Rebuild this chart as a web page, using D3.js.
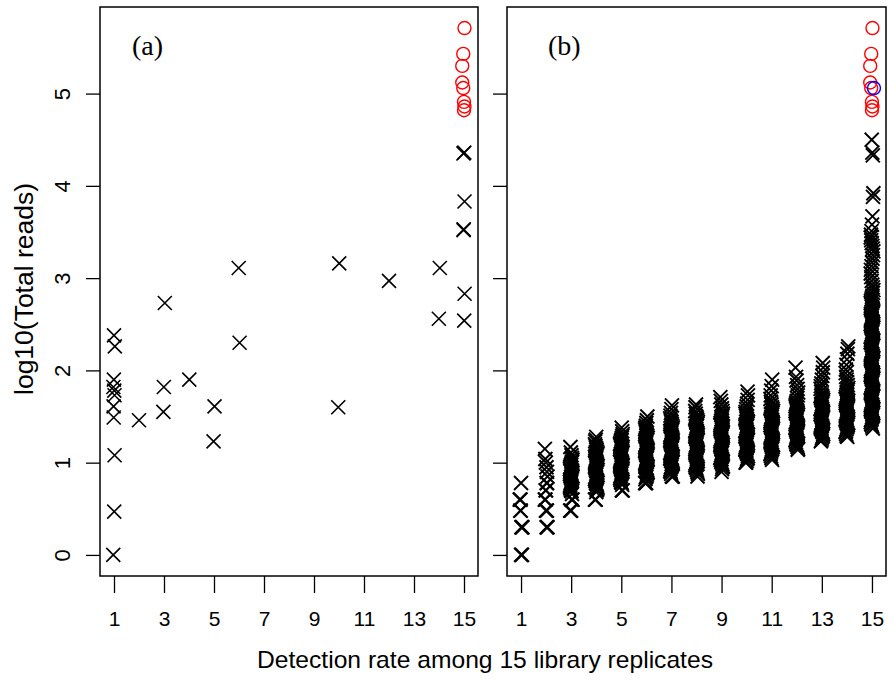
<!DOCTYPE html>
<html>
<head>
<meta charset="utf-8">
<script src="https://cdn.jsdelivr.net/npm/d3@7"></script>
<style>
  body { margin: 0; background: #fff; }
  svg { font-family: "Liberation Sans", Arial, sans-serif; }
</style>
</head>
<body>
<svg id="chart" width="894" height="680"></svg>
<script>
// Panel (a): detection rate and log10(total reads) of each cross
const aRate  = [1, 1, 1, 1, 1, 1, 1, 1, 1, 1, 1, 2, 3, 3, 3, 4, 5, 5, 6, 6, 10, 10, 12, 14, 14, 15, 15, 15, 15, 15, 15, 15];
const aReads = [2.38, 2.26, 1.90, 1.82, 1.78, 1.73, 1.61, 1.49, 1.08, 0.47, 0.00, 1.46, 2.73, 1.82, 1.55, 1.90, 1.61, 1.23, 3.11, 2.30, 3.16, 1.60, 2.97, 3.11, 2.56, 4.35, 4.36, 3.83, 3.52, 3.53, 2.83, 2.54];

// Circled points (rate 15) shown in both panels, one of them blue in (b)
const circleReads = [5.71, 5.43, 5.30, 5.12, 5.06, 4.91, 4.86, 4.82];
const blueReads = [5.06];

// Panel (b): log10(total reads) per detection rate 1..15
const b1  = [0, 0, 0, 0.30, 0.30, 0.30, 0.48, 0.48, 0.60, 0.60, 0.60, 0.78];
const b2  = [0.30, 0.30, 0.30, 0.48, 0.48, 0.48, 0.60, 0.60, 0.60, 0.70, 0.70, 0.78, 0.78, 0.85, 0.90, 0.95, 1.00, 1.04, 1.15];
const b3  = [0.48, 0.48, 0.48, 0.60, 0.60, 0.60, 0.66, 0.69, 0.70, 0.72, 0.74, 0.76, 0.78, 0.79, 0.81, 0.83, 0.85, 0.86, 0.88, 0.90, 0.91, 0.93, 0.95, 0.96, 0.98, 1.00, 1.01, 1.03, 1.05, 1.08, 1.11, 1.17];
const b4  = [0.60, 0.60, 0.60, 0.68, 0.70, 0.71, 0.73, 0.75, 0.77, 0.78, 0.80, 0.82, 0.84, 0.85, 0.87, 0.89, 0.90, 0.92, 0.94, 0.95, 0.97, 0.99, 1.00, 1.02, 1.04, 1.05, 1.07, 1.09, 1.10, 1.12, 1.14, 1.16, 1.18, 1.20, 1.23, 1.25, 1.28];
const b5  = [0.70, 0.70, 0.70, 0.76, 0.78, 0.79, 0.81, 0.83, 0.85, 0.86, 0.88, 0.90, 0.91, 0.93, 0.95, 0.96, 0.98, 1.00, 1.01, 1.03, 1.05, 1.06, 1.08, 1.10, 1.11, 1.13, 1.15, 1.16, 1.18, 1.20, 1.21, 1.23, 1.25, 1.27, 1.29, 1.31, 1.34, 1.38];
const b6  = [0.78, 0.78, 0.78, 0.82, 0.84, 0.85, 0.87, 0.89, 0.90, 0.92, 0.94, 0.95, 0.97, 0.99, 1.00, 1.02, 1.04, 1.05, 1.07, 1.09, 1.10, 1.12, 1.14, 1.15, 1.17, 1.19, 1.20, 1.22, 1.24, 1.25, 1.27, 1.29, 1.30, 1.32, 1.34, 1.36, 1.38, 1.40, 1.43, 1.46, 1.50];
const b7  = [0.85, 0.85, 0.85, 0.88, 0.90, 0.91, 0.93, 0.95, 0.96, 0.98, 1.00, 1.01, 1.03, 1.05, 1.06, 1.08, 1.10, 1.11, 1.13, 1.15, 1.16, 1.18, 1.20, 1.21, 1.23, 1.25, 1.26, 1.28, 1.30, 1.31, 1.33, 1.35, 1.36, 1.38, 1.40, 1.42, 1.44, 1.46, 1.48, 1.51, 1.54, 1.58, 1.62];
const b8  = [0.85, 0.88, 0.90, 0.92, 0.94, 0.95, 0.97, 0.99, 1.00, 1.02, 1.04, 1.05, 1.07, 1.09, 1.10, 1.12, 1.14, 1.15, 1.17, 1.19, 1.20, 1.22, 1.24, 1.25, 1.27, 1.29, 1.30, 1.32, 1.34, 1.35, 1.37, 1.39, 1.40, 1.42, 1.44, 1.46, 1.48, 1.50, 1.53, 1.56, 1.60, 1.63];
const b9  = [0.90, 0.93, 0.95, 0.96, 0.98, 1.00, 1.01, 1.03, 1.05, 1.06, 1.08, 1.10, 1.11, 1.13, 1.15, 1.16, 1.18, 1.20, 1.21, 1.23, 1.25, 1.26, 1.28, 1.30, 1.31, 1.33, 1.35, 1.36, 1.38, 1.40, 1.41, 1.43, 1.45, 1.47, 1.49, 1.51, 1.53, 1.56, 1.59, 1.63, 1.67, 1.71];
const b10 = [1.00, 1.00, 1.02, 1.04, 1.05, 1.07, 1.09, 1.10, 1.12, 1.14, 1.15, 1.17, 1.19, 1.20, 1.22, 1.24, 1.25, 1.27, 1.29, 1.30, 1.32, 1.34, 1.35, 1.37, 1.39, 1.40, 1.42, 1.44, 1.45, 1.47, 1.49, 1.51, 1.53, 1.55, 1.58, 1.61, 1.64, 1.68, 1.73, 1.77];
const b11 = [1.03, 1.05, 1.07, 1.09, 1.10, 1.12, 1.14, 1.15, 1.17, 1.19, 1.20, 1.22, 1.24, 1.25, 1.27, 1.29, 1.30, 1.32, 1.34, 1.35, 1.37, 1.39, 1.40, 1.42, 1.44, 1.45, 1.47, 1.49, 1.50, 1.52, 1.54, 1.56, 1.58, 1.60, 1.63, 1.66, 1.69, 1.73, 1.78, 1.83, 1.90];
const b12 = [1.14, 1.15, 1.17, 1.19, 1.20, 1.22, 1.24, 1.25, 1.27, 1.29, 1.30, 1.32, 1.34, 1.35, 1.37, 1.39, 1.40, 1.42, 1.44, 1.45, 1.47, 1.49, 1.50, 1.52, 1.54, 1.55, 1.57, 1.59, 1.61, 1.63, 1.65, 1.67, 1.70, 1.73, 1.76, 1.80, 1.84, 1.89, 1.93, 2.03];
const b13 = [1.23, 1.24, 1.26, 1.28, 1.29, 1.31, 1.33, 1.34, 1.36, 1.38, 1.39, 1.41, 1.43, 1.44, 1.46, 1.48, 1.49, 1.51, 1.53, 1.54, 1.56, 1.58, 1.59, 1.61, 1.63, 1.64, 1.66, 1.68, 1.70, 1.72, 1.74, 1.77, 1.80, 1.83, 1.86, 1.90, 1.94, 1.98, 2.03, 2.08];
const b14 = [1.28, 1.29, 1.31, 1.33, 1.34, 1.36, 1.38, 1.39, 1.41, 1.43, 1.44, 1.46, 1.48, 1.49, 1.51, 1.53, 1.54, 1.56, 1.58, 1.59, 1.61, 1.63, 1.64, 1.66, 1.68, 1.69, 1.71, 1.73, 1.75, 1.77, 1.79, 1.81, 1.84, 1.87, 1.90, 1.93, 1.97, 2.01, 2.06, 2.12, 2.18, 2.23, 2.26];
const b15 = [1.37, 1.39, 1.41, 1.42, 1.44, 1.46, 1.47, 1.49, 1.51, 1.52, 1.54, 1.56, 1.57, 1.59, 1.61, 1.62, 1.64, 1.66, 1.67, 1.69, 1.71, 1.72, 1.74, 1.76, 1.77, 1.79, 1.81, 1.82, 1.84, 1.86, 1.87, 1.89, 1.91, 1.92, 1.94, 1.96, 1.97, 1.99, 2.01, 2.02, 2.04, 2.06, 2.07, 2.09, 2.11, 2.12, 2.14, 2.16, 2.17, 2.19, 2.21, 2.22, 2.24, 2.26, 2.27, 2.29, 2.31, 2.32, 2.34, 2.36, 2.37, 2.39, 2.41, 2.42, 2.44, 2.46, 2.47, 2.49, 2.51, 2.52, 2.54, 2.56, 2.57, 2.59, 2.61, 2.62, 2.64, 2.66, 2.67, 2.69, 2.71, 2.73, 2.75, 2.77, 2.79, 2.81, 2.84, 2.87, 2.90, 2.93, 2.97, 3.01, 3.05, 3.09, 3.13, 3.17, 3.21, 3.25, 3.29, 3.32, 3.35, 3.38, 3.41, 3.44, 3.47, 3.51, 3.58, 3.67, 3.88, 3.92, 4.33, 4.36, 4.50];
const bColumns = [b1, b2, b3, b4, b5, b6, b7, b8, b9, b10, b11, b12, b13, b14, b15];

const xTicks = [1, 3, 5, 7, 9, 11, 13, 15];
const yTicks = [0, 1, 2, 3, 4, 5];

// small fixed horizontal wobble so stacked crosses do not sit on one line
const spread = [0, 0.02, 0.04, 0.055, 0.035, 0.015, -0.01, -0.03, -0.05, -0.04, -0.02];

const svg = d3.select("#chart");
const plotTop = 7, plotBottom = 576;

const yScale = d3.scaleLinear().domain([-0.2284, 5.9384]).range([plotBottom, plotTop]);

const crossPath = "M-7,-7L7,7M-7,7L7,-7";

const drawPanel = (left, right, label, showYLabels) => {
  const xScale = d3.scaleLinear().domain([0.44, 15.56]).range([left, right]);
  const g = svg.append("g");

  // y axis
  const yAxis = g.append("g")
    .attr("transform", `translate(${left},0)`)
    .call(d3.axisLeft(yScale).tickValues(yTicks).tickSize(14).tickFormat(d3.format("d")));
  yAxis.select(".domain").remove();
  yAxis.selectAll("line").attr("stroke-width", 1.3);
  if (showYLabels) {
    yAxis.selectAll("text")
      .attr("x", null).attr("dy", null)
      .attr("text-anchor", "middle")
      .attr("transform", "translate(-30,0) rotate(-90)")
      .style("font-size", "22px").style("font-family", "Liberation Sans, Arial, sans-serif")
      .attr("fill", "#000");
  } else {
    yAxis.selectAll("text").remove();
  }

  // x axis
  const xAxis = g.append("g")
    .attr("transform", `translate(0,${plotBottom})`)
    .call(d3.axisBottom(xScale).tickValues(xTicks).tickSize(17).tickPadding(18));
  xAxis.select(".domain").remove();
  xAxis.selectAll("line").attr("stroke-width", 1.3);
  xAxis.selectAll("text")
    .style("font-size", "21px").style("font-family", "Liberation Sans, Arial, sans-serif")
    .attr("fill", "#000");

  // frame
  g.append("rect")
    .attr("x", left).attr("y", plotTop)
    .attr("width", right - left).attr("height", plotBottom - plotTop)
    .attr("fill", "none").attr("stroke", "#000").attr("stroke-width", 1.5);

  g.append("text")
    .attr("x", left + (label === "(b)" ? 41 : 32))
    .attr("y", 55)
    .attr("font-family", "Liberation Serif, Times New Roman, serif")
    .attr("font-size", 28)
    .text(label);

  return { g, xScale };
};

// Panel (a)
const pa = drawPanel(100, 478, "(a)", true);
pa.g.selectAll(".cross")
  .data(aReads)
  .join("path")
    .attr("class", "cross")
    .attr("transform", (d, i) => `translate(${pa.xScale(aRate[i] + spread[(i * 3) % spread.length] * 0.6)},${yScale(d)})`)
    .attr("d", crossPath)
    .attr("fill", "none").attr("stroke", "#000").attr("stroke-width", 1.6);

// Panel (b)
const pb = drawPanel(507, 886, "(b)", false);
const bPoints = bColumns.flatMap((col, c) => col.map(v => ({ rate: c + 1, reads: v })));
pb.g.selectAll(".cross")
  .data(bPoints)
  .join("path")
    .attr("class", "cross")
    .attr("transform", (d, i) => `translate(${pb.xScale(d.rate + spread[i % spread.length])},${yScale(d.reads)})`)
    .attr("d", crossPath)
    .attr("fill", "none").attr("stroke", "#000").attr("stroke-width", 1.9);

// Circled points in both panels
const circleOffsets = [0.02, -0.03, -0.07, -0.07, -0.03, 0.0, 0.02, 0.0];
[pa, pb].forEach(p => {
  p.g.selectAll(".circ")
    .data(circleReads)
    .join("circle")
      .attr("class", "circ")
      .attr("cx", (d, i) => p.xScale(15 + circleOffsets[i]))
      .attr("cy", d => yScale(d))
      .attr("r", 6.5)
      .attr("fill", "none").attr("stroke", "#ff0000").attr("stroke-width", 1.4);
});
pb.g.selectAll(".blue")
  .data(blueReads)
  .join("circle")
    .attr("class", "blue")
    .attr("cx", pb.xScale(15.08))
    .attr("cy", d => yScale(d))
    .attr("r", 6.5)
    .attr("fill", "none").attr("stroke", "#0000ff").attr("stroke-width", 1.4);

// Axis titles
svg.append("text")
  .attr("transform", `translate(33,289) rotate(-90)`)
  .attr("text-anchor", "middle")
  .attr("font-size", 25)
  .attr("textLength", 212)
  .attr("lengthAdjust", "spacingAndGlyphs")
  .text("log10(Total reads)");

svg.append("text")
  .attr("x", 485).attr("y", 668)
  .attr("text-anchor", "middle")
  .attr("font-size", 24)
  .attr("textLength", 456)
  .attr("lengthAdjust", "spacingAndGlyphs")
  .text("Detection rate among 15 library replicates");
</script>
</body>
</html>
